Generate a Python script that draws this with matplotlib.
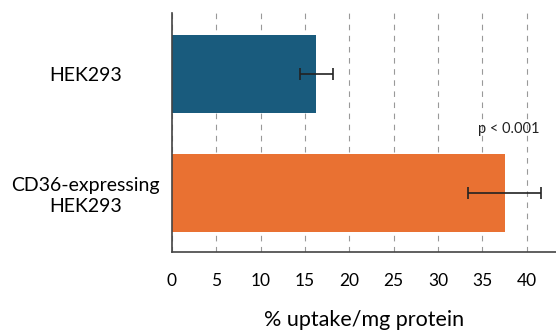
import matplotlib
matplotlib.use('Agg')
import matplotlib.pyplot as plt

groups = ['HEK293', 'CD36-expressing\nHEK293']
uptake = [16.3, 37.5]
uptake_err = [1.9, 4.1]
bar_colors = ['#195b7d', '#e97132']
p_label = 'p < 0.001'

plt.rcParams['font.family'] = ['Lato', 'DejaVu Sans']

fig = plt.figure(figsize=(5.56, 3.30), dpi=100)
ax = fig.add_axes([0.309, 0.236, 0.691, 0.725])

ax.barh(range(len(groups)), uptake, height=0.66, color=bar_colors,
        xerr=uptake_err, error_kw=dict(ecolor='#222222', elinewidth=1.2, capsize=4, capthick=1.2),
        zorder=2)
ax.text(uptake[1] + 0.5, 0.46, p_label, fontsize=10.5, ha='center', va='center', color='#222222')

ax.set_ylim(1.5, -0.515)
ax.set_xlim(0, 43.3)
ax.set_xticks(range(0, 45, 5))
ax.set_yticks(range(len(groups)))
ax.set_yticklabels(groups, ha='center', multialignment='center', fontsize=14, linespacing=1.3)
ax.tick_params(axis='y', length=0, pad=62)
ax.tick_params(axis='x', length=0, pad=15, labelsize=12.5)
ax.grid(axis='x', linestyle=(0, (5, 5)), color='#999999', linewidth=0.8, zorder=0)
ax.set_xlabel('% uptake/mg protein', fontsize=15.5, labelpad=15)

for side in ['top', 'right']:
    ax.spines[side].set_visible(False)
for side in ['left', 'bottom']:
    ax.spines[side].set_color('#444444')
    ax.spines[side].set_linewidth(1.2)

fig.savefig('out.png')
